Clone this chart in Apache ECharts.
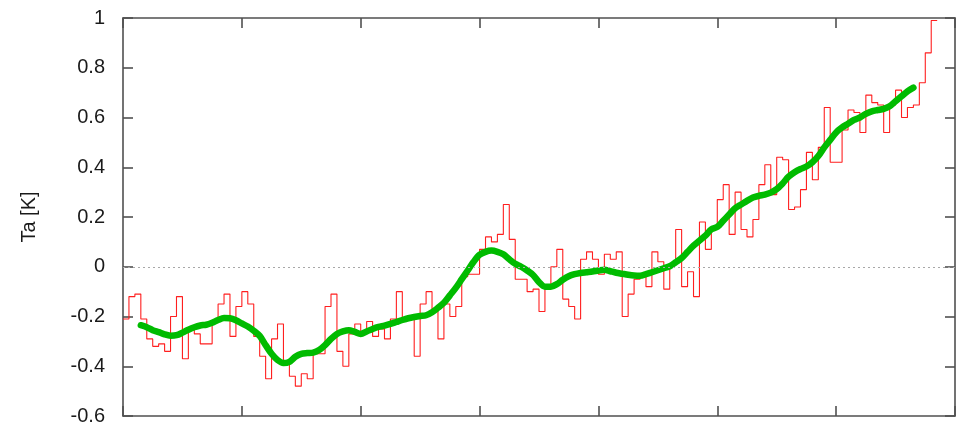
<!DOCTYPE html>
<html>
<head>
<meta charset="utf-8">
<title>Ta [K]</title>
<script src="https://cdn.jsdelivr.net/npm/echarts@6/dist/echarts.min.js"></script>
<style>
  html, body { margin: 0; padding: 0; background: #ffffff; overflow: hidden; }
  #chart { width: 959px; height: 426px; }
</style>
</head>
<body>
<div id="chart"></div>
<script>
// Annual temperature anomaly, one value per year starting at 1880
const annualStartYear = 1880;
const annualAnomaly = [
  -0.21, -0.12, -0.11, -0.21, -0.29, -0.32, -0.31, -0.34, -0.20, -0.12,
  -0.37, -0.25, -0.27, -0.31, -0.31, -0.22, -0.15, -0.11, -0.28, -0.16,
  -0.10, -0.15, -0.28, -0.36, -0.45, -0.29, -0.23, -0.39, -0.44, -0.48,
  -0.43, -0.45, -0.35, -0.35, -0.16, -0.11, -0.34, -0.40, -0.27, -0.23,
  -0.27, -0.22, -0.28, -0.25, -0.29, -0.21, -0.10, -0.21, -0.21, -0.36,
  -0.15, -0.10, -0.17, -0.29, -0.15, -0.20, -0.16, -0.04, -0.03, -0.03,
   0.07,  0.12,  0.10,  0.13,  0.25,  0.11, -0.05, -0.05, -0.10, -0.09,
  -0.18, -0.08,  0.00,  0.07, -0.13, -0.16, -0.21,  0.03,  0.06,  0.03,
  -0.03,  0.05,  0.03,  0.06, -0.20, -0.11, -0.05, -0.03, -0.08,  0.06,
   0.02, -0.09,  0.01,  0.15, -0.08, -0.02, -0.12,  0.18,  0.07,  0.16,
   0.27,  0.33,  0.13,  0.30,  0.15,  0.12,  0.19,  0.33,  0.41,  0.29,
   0.44,  0.43,  0.23,  0.24,  0.31,  0.46,  0.35,  0.48,  0.64,  0.42,
   0.42,  0.55,  0.63,  0.62,  0.54,  0.69,  0.66,  0.65,  0.54,  0.65,
   0.71,  0.60,  0.64,  0.65,  0.74,  0.86,  0.99
];

// Smoothed trend, one value per year starting at 1883
const trendStartYear = 1883;
const trendAnomaly = [
  -0.235, -0.243, -0.255, -0.263, -0.272, -0.277, -0.275,
  -0.265, -0.253, -0.243, -0.236, -0.233, -0.225, -0.214, -0.206, -0.207, -0.215,
  -0.228, -0.240, -0.257, -0.278, -0.315, -0.350, -0.375, -0.387, -0.382, -0.362,
  -0.350, -0.347, -0.345, -0.335, -0.315, -0.290, -0.270, -0.260, -0.255, -0.262,
  -0.270, -0.260, -0.250, -0.242, -0.237, -0.230, -0.222, -0.214, -0.207, -0.202,
  -0.198, -0.195, -0.183, -0.165, -0.145, -0.115, -0.085, -0.050, -0.015,  0.020,
   0.048,  0.060,  0.065,  0.060,  0.050,  0.030,  0.012,  0.000, -0.015, -0.033,
  -0.062, -0.080, -0.080, -0.070, -0.052, -0.038, -0.030, -0.025, -0.022, -0.019,
  -0.015, -0.012, -0.018, -0.024, -0.028, -0.032, -0.035, -0.036, -0.030, -0.022,
  -0.014, -0.006,  0.002,  0.018,  0.035,  0.060,  0.085,  0.105,  0.125,  0.150,
   0.160,  0.185,  0.210,  0.235,  0.250,  0.265,  0.278,  0.285,  0.290,  0.298,
   0.312,  0.335,  0.362,  0.380,  0.393,  0.403,  0.420,  0.445,  0.480,  0.510,
   0.540,  0.560,  0.575,  0.590,  0.600,  0.615,  0.625,  0.630,  0.635,  0.645,
   0.665,  0.685,  0.705,  0.720
];

// Axis ranges and tick spacing
const xRange = [1880, 2020];
const xStep = 20;
const yRange = [-0.6, 1];
const yStep = 0.2;
const yAxisTitle = 'Ta [K]';

// Each annual value is held flat across its year, so the step line
// gets one closing point at the end of the final year.
const annualPoints = annualAnomaly.map((v, i) => [annualStartYear + i, v]);
annualPoints.push([annualStartYear + annualAnomaly.length, annualAnomaly[annualAnomaly.length - 1]]);
const trendPoints = trendAnomaly.map((v, i) => [trendStartYear + i, v]);

const frameColor = '#505050';
const fontFamily = '"Liberation Sans", Arial, sans-serif';

// Shared look of the four axes that together form the box around the plot
function frameAxis(extra) {
  return Object.assign({
    type: 'value',
    axisLine: { show: true, onZero: false, lineStyle: { color: frameColor, width: 1.6 } },
    axisTick: { show: true, inside: true, length: 10, lineStyle: { color: frameColor, width: 1.6 } },
    axisLabel: { show: false },
    splitLine: { show: false }
  }, extra);
}

const chart = echarts.init(document.getElementById('chart'), null, { renderer: 'canvas' });

chart.setOption({
  animation: false,
  backgroundColor: '#ffffff',
  grid: { left: 123, right: 4, top: 18, bottom: 8, containLabel: false },
  xAxis: [
    frameAxis({ position: 'bottom', min: xRange[0], max: xRange[1], interval: xStep }),
    frameAxis({ position: 'top', min: xRange[0], max: xRange[1], interval: xStep })
  ],
  yAxis: [
    frameAxis({
      position: 'left',
      min: yRange[0], max: yRange[1], interval: yStep,
      name: yAxisTitle,
      nameLocation: 'middle',
      nameRotate: 90,
      nameGap: 84,
      nameTextStyle: { color: '#1a1a1a', fontSize: 20, fontFamily: fontFamily },
      axisLabel: {
        show: true,
        color: '#1a1a1a', fontSize: 20, fontFamily: fontFamily, margin: 18,
        formatter: v => String(parseFloat(v.toFixed(1)))
      }
    }),
    frameAxis({ position: 'right', min: yRange[0], max: yRange[1], interval: yStep })
  ],
  series: [
    {
      name: 'annual',
      type: 'line',
      step: 'end',
      data: annualPoints,
      showSymbol: false,
      symbol: 'none',
      lineStyle: { color: '#ff1f1f', width: 1.1 },
      z: 2,
      markLine: {
        silent: true,
        symbol: 'none',
        label: { show: false },
        lineStyle: { color: '#a8a8a8', type: [2, 3], width: 1 },
        data: [{ yAxis: 0 }]
      }
    },
    {
      name: 'trend',
      type: 'line',
      smooth: 0.3,
      data: trendPoints,
      showSymbol: false,
      symbol: 'none',
      lineStyle: { color: '#00bb00', width: 6.5, cap: 'round', join: 'round' },
      z: 3
    },
    {
      // binds the top and right axes to a series
      name: 'frame',
      type: 'line',
      xAxisIndex: 1,
      yAxisIndex: 1,
      data: [],
      showSymbol: false,
      silent: true
    }
  ]
});
</script>
</body>
</html>
